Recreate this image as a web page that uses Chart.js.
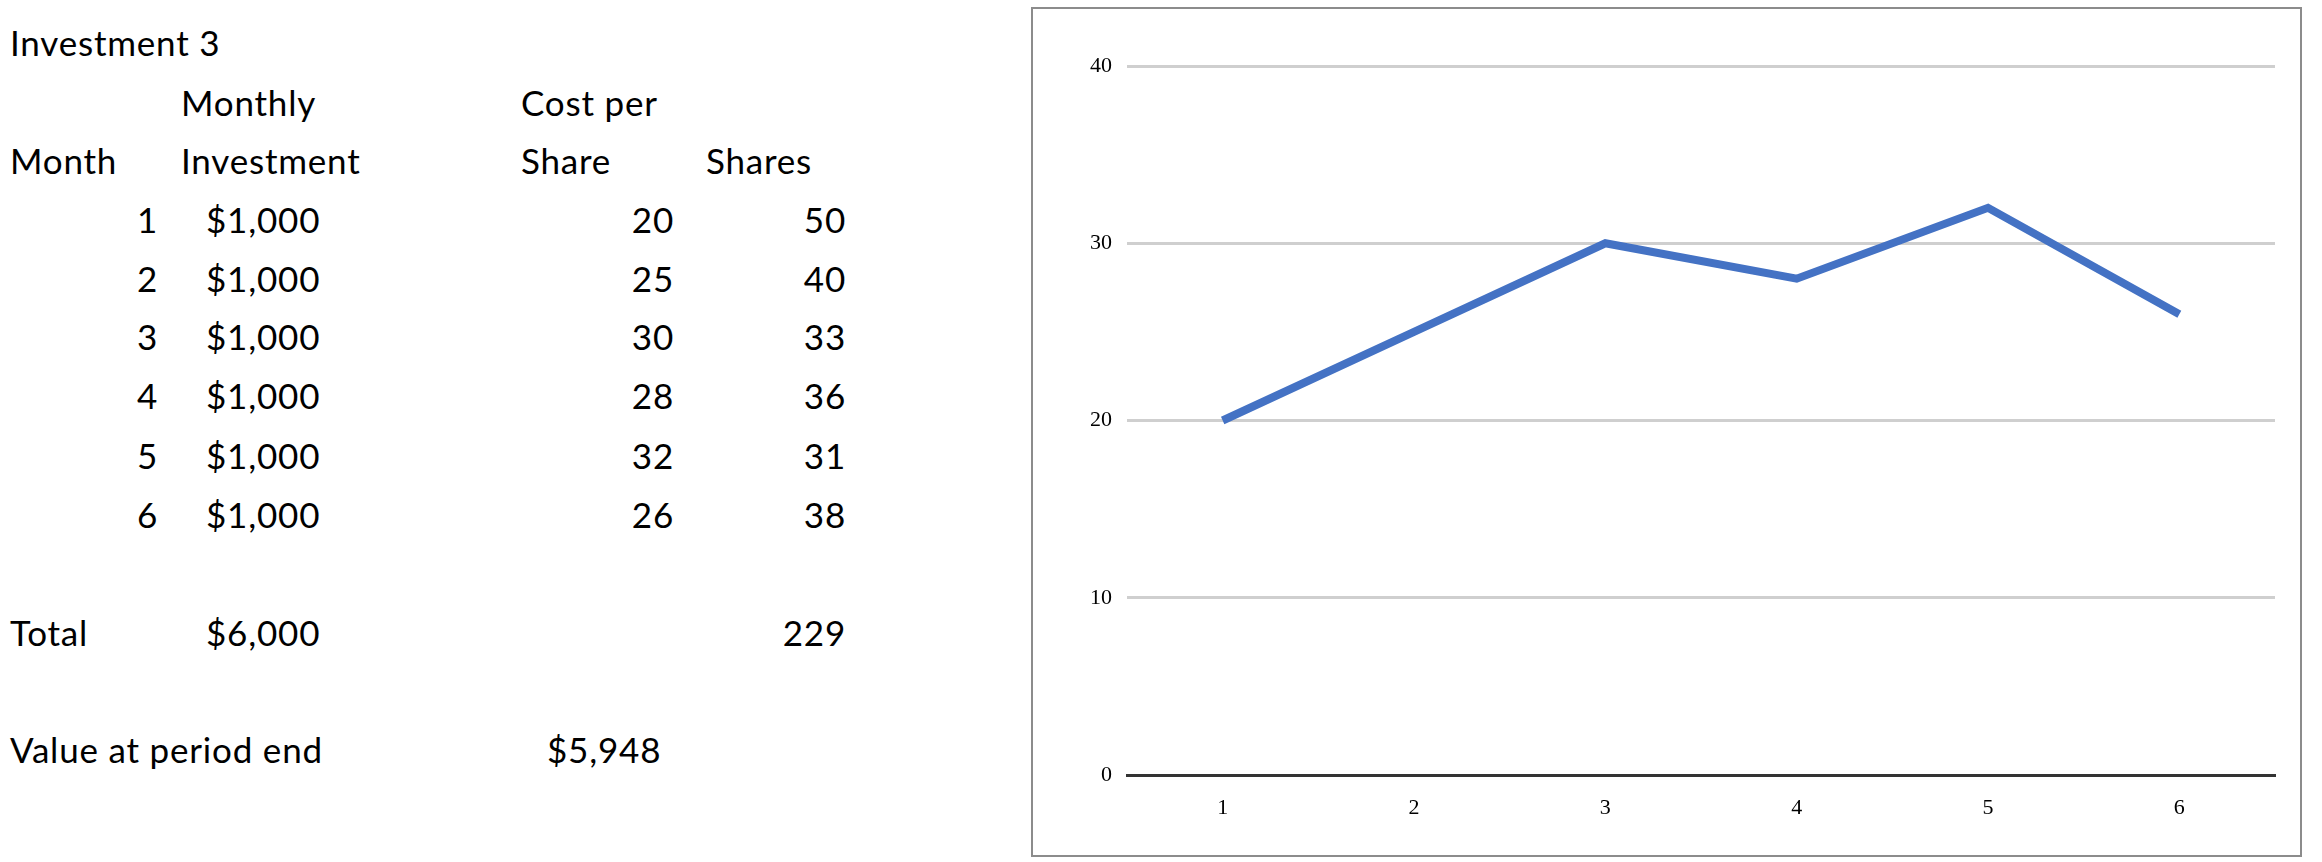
<!DOCTYPE html>
<html>
<head>
<meta charset="utf-8">
<script src="https://cdn.jsdelivr.net/npm/chart.js@4/dist/chart.umd.min.js"></script>
<style>
  body { margin: 0; background: #fff; width: 2322px; height: 862px; overflow: hidden; position: relative; }
  .t { position: absolute; font-family: Lato, "Open Sans", sans-serif; font-size: 35px; line-height: 36px; letter-spacing: 0.8px; color: #000; white-space: nowrap; }
  .r { text-align: right; }
  #box { position: absolute; left: 1031px; top: 7px; width: 1267px; height: 846px; border: 2px solid #8c8c8c; }
  #box canvas { display: block; }
</style>
</head>
<body>
<div id="table"></div>
<div id="box"><canvas id="chart" width="1267" height="846"></canvas></div>
<script>
// table data
const months = [1, 2, 3, 4, 5, 6];
const monthlyInvestment = ['$1,000', '$1,000', '$1,000', '$1,000', '$1,000', '$1,000'];
const costPerShare = [20, 25, 30, 28, 32, 26];
const shares = [50, 40, 33, 36, 31, 38];
const totalInvestment = '$6,000';
const totalShares = 229;
const valueAtEnd = '$5,948';

// y ticks of the chart
const yTicks = [0, 10, 20, 30, 40];

const table = document.getElementById('table');
function put(text, x, y, right) {
    const d = document.createElement('div');
    d.className = 't' + (right ? ' r' : '');
    d.textContent = text;
    d.style.top = (y - 18) + 'px';
    if (right) {
        d.style.right = (2322 - x) + 'px';
    } else {
        d.style.left = x + 'px';
    }
    table.appendChild(d);
}

put('Investment 3', 10, 42);
put('Monthly', 181, 102);
put('Cost per', 521, 102);
put('Month', 10, 160);
put('Investment', 181, 160);
put('Share', 521, 160);
put('Shares', 706, 160);

const rowY = [219, 278, 336, 395, 455, 514];
months.forEach(function(m, i) {
    put(String(m), 158, rowY[i], true);
    put(monthlyInvestment[i], 206, rowY[i]);
    put(String(costPerShare[i]), 674, rowY[i], true);
    put(String(shares[i]), 846, rowY[i], true);
});

put('Total', 10, 632);
put(totalInvestment, 206, 632);
put(String(totalShares), 846, 632, true);
put('Value at period end', 10, 749);
put(valueAtEnd, 547, 749);

// Line chart of cost per share
const ctx = document.getElementById('chart').getContext('2d');
new Chart(ctx, {
    type: 'line',
    data: {
        labels: months.map(String),
        datasets: [{
            data: costPerShare,
            borderColor: '#4472C4',
            borderWidth: 8,
            pointRadius: 0,
            tension: 0,
            fill: false
        }]
    },
    options: {
        responsive: false,
        animation: false,
        devicePixelRatio: 1,
        layout: { padding: { left: 0, right: 25, top: 57, bottom: 0 } },
        plugins: { legend: { display: false }, tooltip: { enabled: false } },
        scales: {
            x: {
                offset: true,
                grid: { display: false },
                border: { display: true, color: '#333', width: 3 },
                ticks: { color: '#000', font: { family: 'Liberation Serif', size: 22 }, padding: 12 },
                afterFit: function(scale) { scale.height = 80; }
            },
            y: {
                min: 0,
                max: 40,
                afterBuildTicks: function(scale) { scale.ticks = yTicks.map(v => ({ value: v })); },
                grid: {
                    drawTicks: false,
                    lineWidth: 3,
                    color: function(c) { return c.tick && c.tick.value === 0 ? '#333' : '#cfcfcf'; }
                },
                border: { display: false },
                ticks: { color: '#000', font: { family: 'Liberation Serif', size: 22 }, padding: 15 },
                afterFit: function(scale) { scale.width = 94; }
            }
        }
    }
});
</script>
</body>
</html>
